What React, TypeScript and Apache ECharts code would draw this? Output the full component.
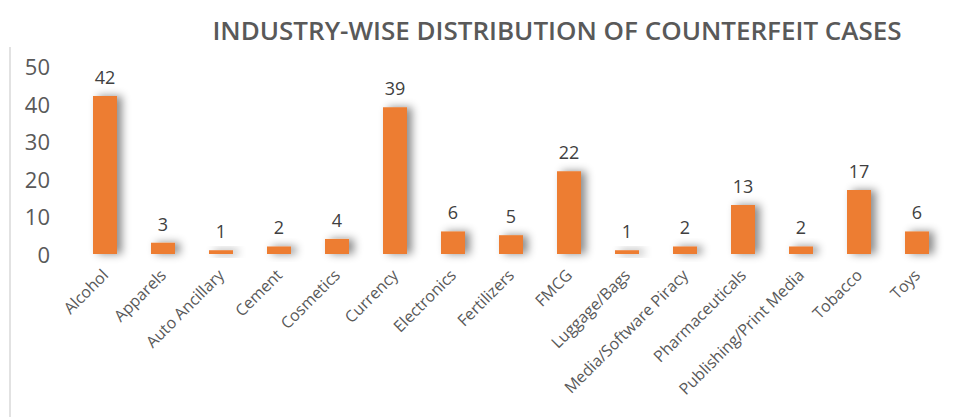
import React, { useEffect, useRef } from "react";
import * as echarts from "echarts";

const categories = [
  "Alcohol", "Apparels", "Auto Ancillary", "Cement", "Cosmetics", "Currency",
  "Electronics", "Fertilizers", "FMCG", "Luggage/Bags", "Media/Software Piracy",
  "Pharmaceuticals", "Publishing/Print Media", "Tobacco", "Toys",
];
const cases = [42, 3, 1, 2, 4, 39, 6, 5, 22, 1, 2, 13, 2, 17, 6];
const yTicks = { min: 0, max: 50, interval: 10 };
const title = "INDUSTRY-WISE DISTRIBUTION OF COUNTERFEIT CASES";

export default function App() {
  const ref = useRef<HTMLDivElement>(null);
  useEffect(() => {
    if (!ref.current) return;
    const chart = echarts.init(ref.current, null, { renderer: "svg" });
    const font = "'Open Sans', 'Liberation Sans', sans-serif";
    chart.setOption({
      animation: false,
      backgroundColor: "#ffffff",
      title: {
        text: title,
        left: 552,
        textAlign: "center",
        top: 12,
        textStyle: { fontFamily: font, fontSize: 26, fontWeight: 600, color: "#595959" },
      },
      graphic: [
        {
          type: "line",
          shape: { x1: 10, y1: 47, x2: 10, y2: 417 },
          style: { stroke: "#d9d9d9", lineWidth: 1.5 },
        },
      ],
      grid: { left: 76, right: 16, top: 66, bottom: 163 },
      xAxis: {
        type: "category",
        data: categories,
        axisLine: { show: false },
        axisTick: { show: false },
        axisLabel: {
          rotate: 45,
          interval: 0,
          margin: 18,
          fontFamily: font,
          fontSize: 16,
          color: "#595959",
        },
      },
      yAxis: {
        type: "value",
        min: yTicks.min,
        max: yTicks.max,
        interval: yTicks.interval,
        axisLine: { show: false },
        axisTick: { show: false },
        splitLine: { show: false },
        axisLabel: { margin: 26, fontFamily: font, fontSize: 22, color: "#595959" },
      },
      series: [
        {
          type: "bar",
          data: cases,
          barWidth: 24,
          itemStyle: {
            color: "#ED7D31",
            shadowColor: "rgba(0,0,0,0.45)",
            shadowBlur: 8,
            shadowOffsetX: 5,
            shadowOffsetY: 0,
          },
          label: {
            show: true,
            position: "top",
            distance: 10,
            fontFamily: font,
            fontSize: 18,
            color: "#404040",
          },
        },
      ],
    });
    return () => chart.dispose();
  }, []);
  return (
    <div
      ref={ref}
      style={{ position: "absolute", left: 0, top: 0, width: 962, height: 417 }}
    />
  );
}
